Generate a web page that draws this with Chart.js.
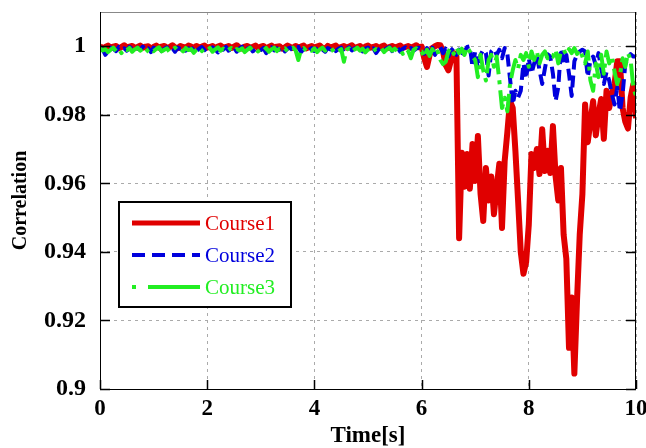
<!DOCTYPE html>
<html>
<head>
<meta charset="utf-8">
<script src="https://cdn.jsdelivr.net/npm/chart.js@4.4.1/dist/chart.umd.min.js"></script>
<style>
html,body{margin:0;padding:0;background:#fff}
#wrap{width:646px;height:448px}
</style>
</head>
<body>
<div id="wrap"><canvas id="grafico" width="646" height="448"></canvas></div>
<script>
/* DADOS */

// tempo [s], passo 0.05
const times=Array.from({length:201},(_,i)=>+(i*0.05).toFixed(2))

const xTicks=[0,2,4,6,8,10]
const yTicks=[0.9,0.92,0.94,0.96,0.98,1]

const seriesNames=["Course1","Course2","Course3"]

const course1=[
1.0000,0.9995,0.9998,1.0002,0.9996,0.9999,1.0001,0.9994,0.9998,1.0003,
0.9997,0.9999,1.0001,0.9995,0.9998,1.0002,0.9996,0.9999,1.0000,0.9993,
0.9998,1.0002,0.9996,0.9999,1.0001,0.9995,0.9998,1.0003,0.9997,0.9994,
1.0001,0.9998,0.9996,1.0002,0.9999,0.9995,1.0001,0.9997,0.9999,1.0002,
0.9996,0.9998,1.0001,0.9994,0.9999,1.0002,0.9996,0.9998,1.0001,0.9995,
0.9999,1.0003,0.9997,0.9993,0.9999,1.0001,0.9996,0.9998,1.0002,0.9995,
0.9999,1.0001,0.9994,0.9998,1.0002,0.9996,0.9999,1.0000,0.9993,0.9997,
1.0002,0.9998,0.9995,1.0001,0.9997,0.9999,1.0002,0.9994,0.9998,1.0001,
0.9996,0.9999,1.0002,0.9995,0.9992,1.0001,0.9997,0.9999,1.0002,0.9994,
0.9998,1.0001,0.9996,0.9999,1.0003,0.9995,0.9998,1.0001,0.9993,0.9999,
1.0002,0.9996,0.9998,1.0001,0.9995,0.9999,1.0002,0.9994,0.9998,1.0001,
0.9997,0.9999,1.0002,0.9995,0.9998,1.0001,0.9996,0.9999,1.0003,0.9997,
0.9999,0.9965,0.9940,0.9975,0.9995,1.0000,1.0004,1.0003,0.9985,0.9945,
0.9930,0.9960,0.9980,0.9970,0.9440,0.9689,0.9590,0.9686,0.9584,0.9715,
0.9607,0.9738,0.9569,0.9490,0.9645,0.9550,0.9620,0.9510,0.9587,0.9657,
0.9470,0.9665,0.9750,0.9840,0.9820,0.9695,0.9550,0.9400,0.9336,0.9370,
0.9480,0.9686,0.9645,0.9700,0.9627,0.9758,0.9636,0.9695,0.9630,0.9767,
0.9620,0.9550,0.9645,0.9450,0.9380,0.9120,0.9267,0.9045,0.9260,0.9450,
0.9569,0.9830,0.9720,0.9780,0.9840,0.9740,0.9800,0.9846,0.9730,0.9870,
0.9820,0.9860,0.9890,0.9956,0.9956,0.9820,0.9780,0.9760,0.9850,0.9890,
0.9790
]

const course2=[
0.9998,0.9990,0.9975,0.9985,0.9996,0.9992,0.9986,0.9998,0.9990,0.9994,
0.9987,0.9998,0.9992,0.9985,0.9996,0.9990,0.9999,0.9988,0.9994,0.9983,
0.9996,0.9991,0.9998,0.9986,0.9993,0.9997,0.9989,0.9995,0.9984,0.9996,
0.9992,0.9998,0.9987,0.9994,0.9990,0.9997,0.9985,0.9993,0.9998,0.9989,
0.9995,0.9986,0.9997,0.9991,0.9982,0.9995,0.9990,0.9998,0.9987,0.9993,
0.9996,0.9984,0.9994,0.9999,0.9988,0.9993,0.9997,0.9985,0.9992,0.9996,
0.9989,0.9995,0.9980,0.9992,0.9997,0.9988,0.9994,0.9990,0.9998,0.9985,
0.9993,0.9996,0.9987,0.9994,0.9998,0.9983,0.9992,0.9996,0.9989,0.9995,
0.9986,0.9993,0.9998,0.9990,0.9984,0.9995,0.9991,0.9997,0.9986,0.9993,
0.9996,0.9982,0.9992,0.9997,0.9988,0.9994,0.9990,0.9998,0.9985,0.9993,
0.9996,0.9987,0.9994,0.9980,0.9991,0.9997,0.9988,0.9994,0.9998,0.9986,
0.9992,0.9996,0.9984,0.9993,0.9997,0.9989,0.9995,0.9987,0.9993,0.9996,
0.9992,0.9978,0.9995,0.9982,0.9996,0.9975,0.9990,0.9998,0.9980,0.9993,
0.9970,0.9988,0.9996,0.9975,0.9990,0.9968,0.9985,0.9998,1.0000,0.9940,
0.9985,0.9935,0.9975,0.9990,0.9980,0.9915,0.9985,0.9993,0.9975,0.9990,
0.9965,0.9995,0.9978,0.9905,0.9830,0.9870,0.9850,0.9870,0.9950,0.9905,
0.9965,0.9920,0.9950,0.9975,0.9930,0.9890,0.9935,0.9977,0.9970,0.9920,
0.9840,0.9880,0.9994,0.9950,0.9975,0.9920,0.9855,0.9956,0.9975,0.9985,
0.9990,0.9985,0.9910,0.9960,0.9970,0.9945,0.9980,0.9936,0.9890,0.9925,
0.9900,0.9860,0.9830,0.9880,0.9810,0.9860,0.9948,0.9965,0.9977,0.9970,
0.9970
]

const course3=[
0.9995,0.9988,0.9992,0.9983,0.9990,0.9996,0.9986,0.9992,0.9980,0.9993,
0.9989,0.9995,0.9984,0.9991,0.9996,0.9987,0.9993,0.9982,0.9990,0.9995,
0.9986,0.9992,0.9997,0.9985,0.9990,0.9994,0.9983,0.9991,0.9996,0.9988,
0.9993,0.9985,0.9995,0.9989,0.9992,0.9981,0.9990,0.9996,0.9986,0.9993,
0.9988,0.9995,0.9984,0.9991,0.9997,0.9987,0.9993,0.9985,0.9990,0.9995,
0.9986,0.9992,0.9988,0.9994,0.9983,0.9990,0.9996,0.9987,0.9992,0.9985,
0.9993,0.9988,0.9995,0.9984,0.9991,0.9996,0.9986,0.9993,0.9989,0.9994,
0.9985,0.9992,0.9996,0.9988,0.9960,0.9990,0.9995,0.9986,0.9992,0.9987,
0.9994,0.9983,0.9991,0.9996,0.9987,0.9993,0.9985,0.9990,0.9995,0.9986,
0.9992,0.9955,0.9990,0.9994,0.9984,0.9991,0.9996,0.9987,0.9993,0.9982,
0.9990,0.9995,0.9986,0.9992,0.9988,0.9994,0.9983,0.9991,0.9996,0.9987,
0.9993,0.9985,0.9990,0.9978,0.9992,0.9986,0.9965,0.9990,0.9994,0.9985,
0.9985,0.9968,0.9990,0.9972,0.9992,0.9975,0.9985,0.9960,0.9948,0.9955,
0.9985,0.9995,0.9978,0.9996,0.9980,0.9993,0.9975,0.9998,0.9985,0.9970,
0.9960,0.9910,0.9975,0.9930,0.9900,0.9960,0.9975,0.9940,0.9970,0.9900,
0.9820,0.9850,0.9810,0.9890,0.9930,0.9960,0.9935,0.9975,0.9960,0.9980,
0.9940,0.9985,0.9960,0.9985,0.9950,0.9975,0.9985,0.9965,0.9975,0.9970,
0.9990,0.9950,0.9985,0.9990,0.9975,0.9992,0.9980,0.9995,0.9978,0.9990,
0.9970,0.9950,0.9985,0.9900,0.9870,0.9950,0.9910,0.9975,0.9920,0.9985,
0.9950,0.9970,0.9925,0.9890,0.9915,0.9965,0.9940,0.9980,0.9960,0.9880,
0.9855
]

/* ESTILOS */

const cores=["#e00000","#0000dd","#22ee22"]
const tracos=[[],[12,6],[22,6,4,6]]
const larguras=[6,4,4]
const serif="'Liberation Serif','Times New Roman',serif"

const pontos=(serie)=>serie.map((v,i)=>({x:times[i],y:v}))

/* MOLDURA + TICKS PARA DENTRO */

const moldura={
id:"moldura",
afterDatasetsDraw(chart){
const {ctx,chartArea:a,scales}=chart
ctx.save()
ctx.lineWidth=1
ctx.strokeStyle="#888"
ctx.beginPath()
ctx.moveTo(a.left,a.top+0.5)
ctx.lineTo(a.right,a.top+0.5)
ctx.stroke()
ctx.strokeStyle="#000"
ctx.beginPath()
ctx.moveTo(a.left+0.5,a.top)
ctx.lineTo(a.left+0.5,a.bottom+0.5)
ctx.lineTo(a.right-0.5,a.bottom+0.5)
ctx.lineTo(a.right-0.5,a.top)
ctx.stroke()
ctx.lineWidth=1.5
ctx.beginPath()
yTicks.forEach(v=>{
const y=Math.round(scales.y.getPixelForValue(v))+0.5
ctx.moveTo(a.left,y);ctx.lineTo(a.left+10,y)
ctx.moveTo(a.right,y);ctx.lineTo(a.right-10,y)
})
xTicks.forEach(v=>{
const x=Math.round(scales.x.getPixelForValue(v))+0.5
ctx.moveTo(x,a.bottom);ctx.lineTo(x,a.bottom-9)
})
ctx.stroke()
ctx.restore()
}
}

/* LEGENDA */

const legenda={
id:"legenda",
afterDraw(chart){
const ctx=chart.ctx
const box={x:119,y:202,w:172,h:105}
ctx.save()
ctx.fillStyle="#fff"
ctx.fillRect(box.x,box.y,box.w,box.h)
ctx.lineWidth=2
ctx.strokeStyle="#000"
ctx.strokeRect(box.x,box.y,box.w,box.h)
const linhas=[223,255,287]
const dashLeg=[[],[13,7],[4,12,60,0]]
seriesNames.forEach((nome,i)=>{
ctx.beginPath()
ctx.setLineDash(dashLeg[i])
ctx.lineWidth=i===0?5:4
ctx.strokeStyle=cores[i]
ctx.moveTo(132,linhas[i])
ctx.lineTo(200,linhas[i])
ctx.stroke()
ctx.setLineDash([])
ctx.fillStyle=cores[i]
ctx.font="21px "+serif
ctx.textBaseline="middle"
ctx.textAlign="left"
ctx.fillText(nome,205,linhas[i]+1)
})
ctx.restore()
}
}

/* GRÁFICO */

const ctx=document.getElementById("grafico")

new Chart(ctx,{

type:"line",

data:{
datasets:[course1,course2,course3].map((serie,i)=>({
label:seriesNames[i],
data:pontos(serie),
borderColor:cores[i],
borderWidth:larguras[i],
borderDash:tracos[i],
borderJoinStyle:"round",
pointRadius:0,
tension:0,
fill:false,
order:3-i
}))
},

options:{
responsive:false,
animation:false,
devicePixelRatio:1,
layout:{padding:{left:0,right:10,top:12,bottom:0}},
plugins:{
legend:{display:false},
tooltip:{enabled:false}
},
scales:{
x:{
type:"linear",
min:0,
max:10,
afterBuildTicks:(s)=>{s.ticks=xTicks.map(v=>({value:v}))},
afterFit:(s)=>{s.height=59;s.paddingLeft=0;s.paddingRight=0},
ticks:{color:"#000",padding:6,maxRotation:0,font:{family:serif,size:23,weight:"bold"}},
grid:{color:"#aaa",lineWidth:1,drawTicks:false},
border:{display:false,dash:[3,4]},
title:{display:true,text:"Time[s]",color:"#000",padding:{top:0,bottom:0},font:{family:serif,size:23,weight:"bold",lineHeight:1}}
},
y:{
min:0.9,
max:1.01,
afterBuildTicks:(s)=>{s.ticks=yTicks.map(v=>({value:v}))},
afterFit:(s)=>{s.width=100;s.paddingTop=0;s.paddingBottom=0},
ticks:{color:"#000",padding:14,callback:(v)=>String(+v.toFixed(2)),font:{family:serif,size:24,weight:"bold"}},
grid:{color:"#aaa",lineWidth:1,drawTicks:false},
border:{display:false,dash:[3,4]},
title:{display:true,text:"Correlation",color:"#000",padding:{top:11,bottom:0},font:{family:serif,size:20,weight:"bold",lineHeight:1}}
}
}
},

plugins:[moldura,legenda]

})
</script>
</body>
</html>
